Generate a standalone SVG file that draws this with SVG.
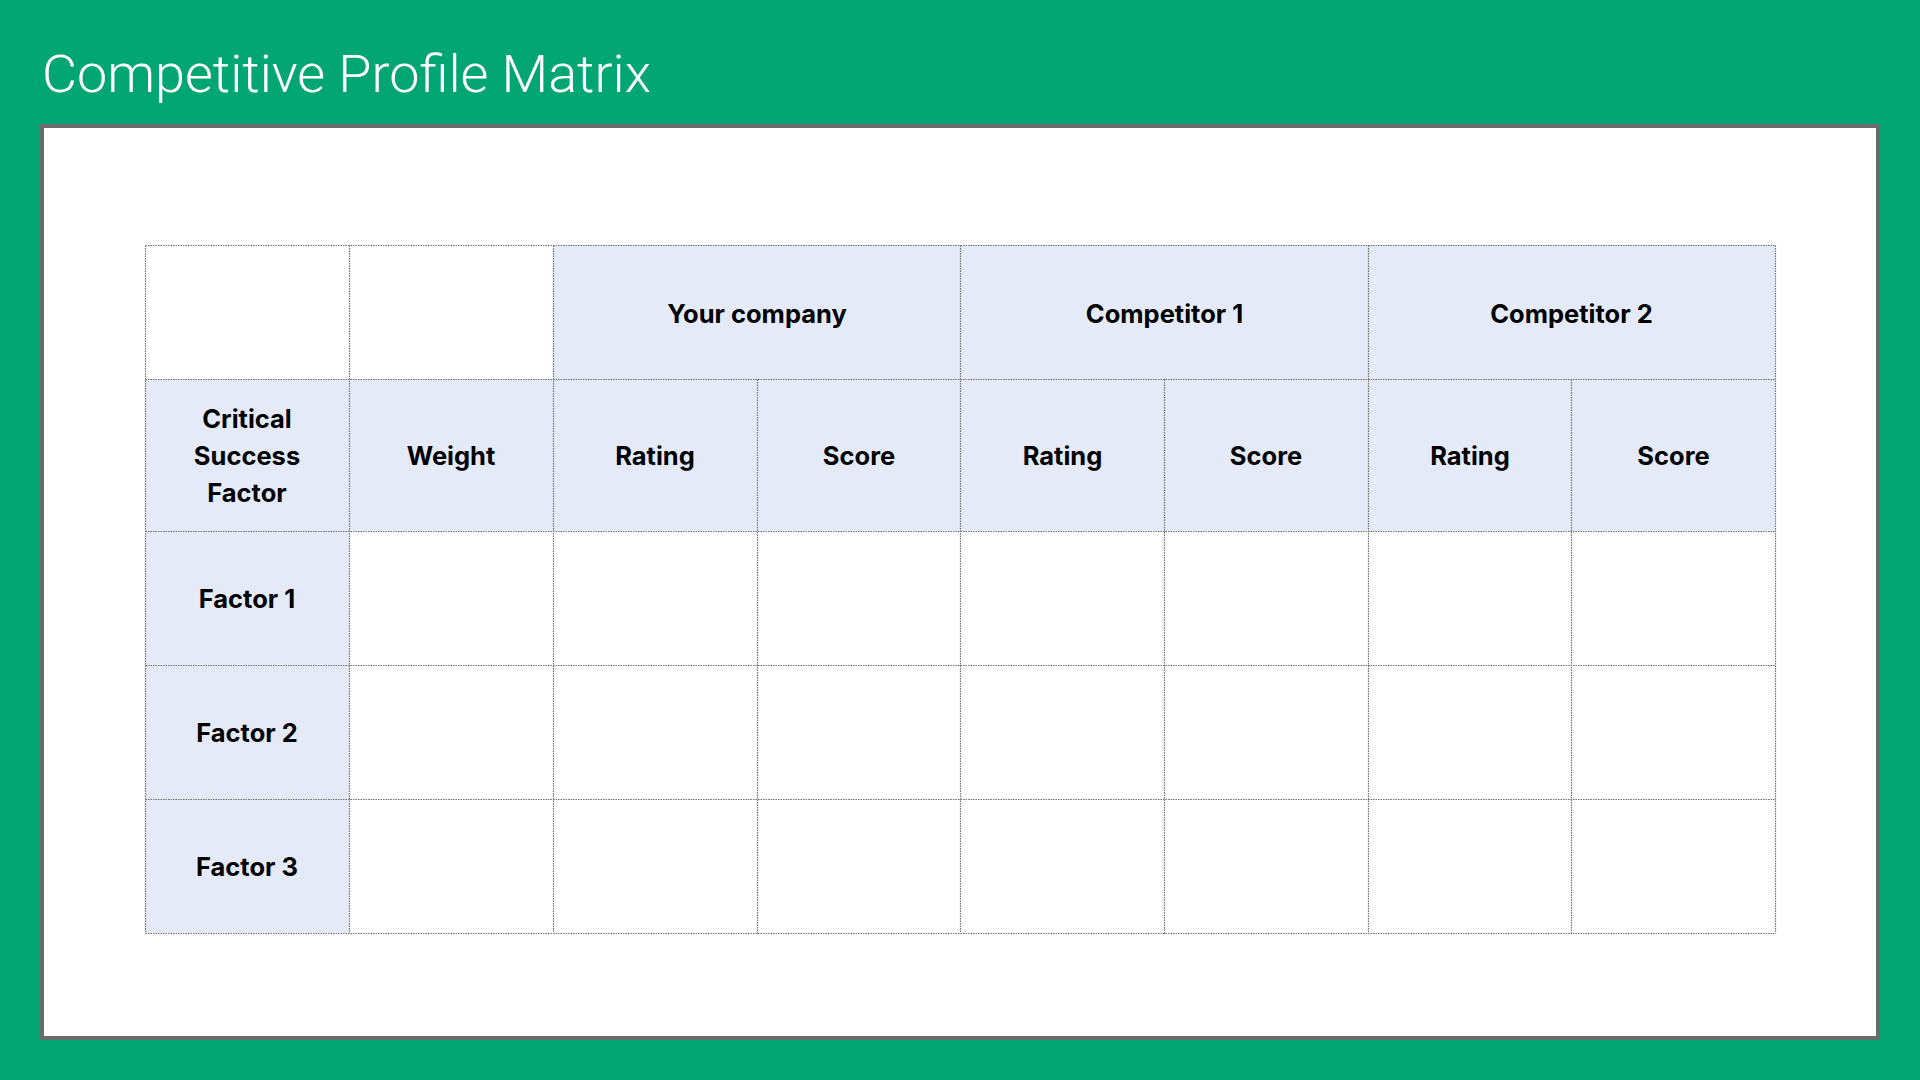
<svg xmlns="http://www.w3.org/2000/svg" width="1920" height="1080" viewBox="0 0 1920 1080">
<style>
.hd{fill:#e4eaf8}
.wh{fill:#ffffff}
.ln{stroke:#707070;stroke-width:1.2;stroke-dasharray:1.5 1;fill:none}
.t{font-family:Inter,"Noto Sans","Liberation Sans",sans-serif;font-weight:700;font-size:25.5px;fill:#000;text-anchor:middle}
.title{font-family:Roboto,"Liberation Sans",sans-serif;font-weight:300;font-size:51px;fill:#fff}
</style>
<rect x="0" y="0" width="1920" height="1080" fill="#02a673"/>
<text class="title" x="42" y="92" textLength="609" lengthAdjust="spacingAndGlyphs">Competitive Profile Matrix</text>
<rect id="panel" x="42" y="126" width="1836" height="912" fill="#ffffff" stroke="#6b6b6b" stroke-width="4"/>
<g id="cells">
<rect class="wh" x="145" y="245" width="408" height="134"/>
<rect class="hd" x="553" y="245" width="1222" height="134"/>
<rect class="hd" x="145" y="379" width="1630" height="152"/>
<rect class="hd" x="145" y="531" width="204" height="402"/>
<rect class="wh" x="349" y="531" width="1426" height="402"/>
</g>
<g id="grid">
<path class="ln" d="M145.5 245.5H1775.5M145.5 379.5H1775.5M145.5 531.5H1775.5M145.5 665.5H1775.5M145.5 799.5H1775.5M145.5 933.5H1775.5"/>
<path class="ln" d="M145.5 245.5V933.5M349.5 245.5V933.5M553.5 245.5V933.5M960.5 245.5V933.5M1368.5 245.5V933.5M1775.5 245.5V933.5M757.5 379.5V933.5M1164.5 379.5V933.5M1571.5 379.5V933.5"/>
</g>
<g id="header-top">
<text class="t" x="757" y="322.5">Your company</text>
<text class="t" x="1164.5" y="322.5">Competitor 1</text>
<text class="t" x="1571.5" y="322.5">Competitor 2</text>
</g>
<g id="header-sub">
<text class="t" x="247" y="428.3">Critical</text>
<text class="t" x="247" y="465">Success</text>
<text class="t" x="247" y="501.7">Factor</text>
<text class="t" x="451" y="465">Weight</text>
<text class="t" x="655" y="465">Rating</text>
<text class="t" x="859" y="465">Score</text>
<text class="t" x="1062.5" y="465">Rating</text>
<text class="t" x="1266" y="465">Score</text>
<text class="t" x="1470" y="465">Rating</text>
<text class="t" x="1673.5" y="465">Score</text>
</g>
<g id="factors">
<text class="t" x="247" y="607.5">Factor 1</text>
<text class="t" x="247" y="741.5">Factor 2</text>
<text class="t" x="247" y="875.5">Factor 3</text>
</g>
</svg>
